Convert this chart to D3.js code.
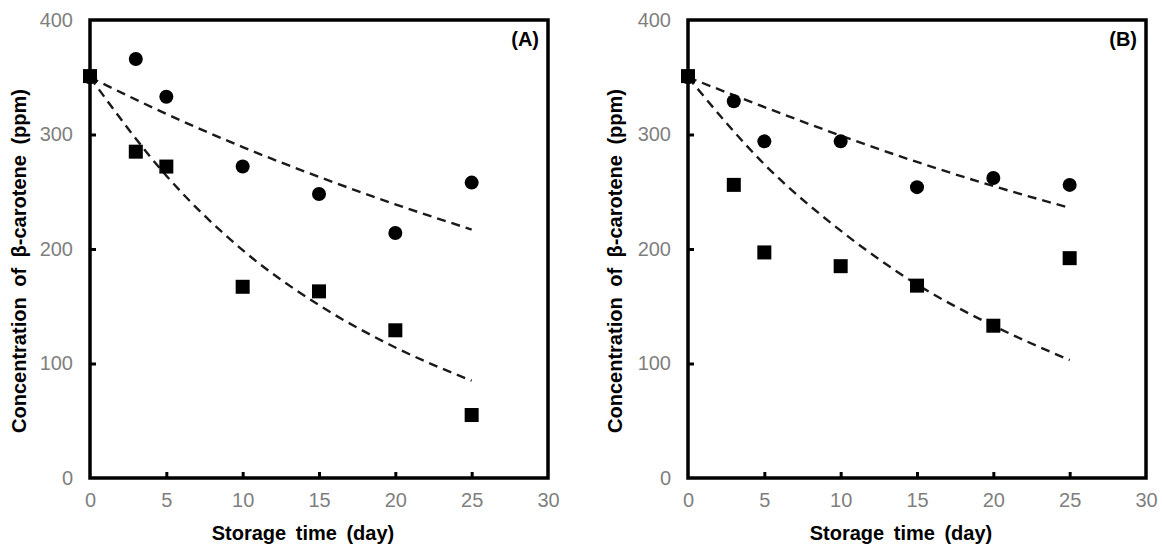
<!DOCTYPE html>
<html>
<head>
<meta charset="utf-8">
<script src="https://cdn.jsdelivr.net/npm/d3@7"></script>
<style>
  html, body { margin: 0; padding: 0; background: #fff; }
  svg { display: block; font-family: Arial, "Liberation Sans", sans-serif; }
</style>
</head>
<body>
<svg id="chart" width="1162" height="546"></svg>
<script>
// ---- Data ----
const days = [0, 3, 5, 10, 15, 20, 25];
const fitDays = [0, 5, 10, 15, 20, 25];

const circlesA = [350, 366, 333, 272, 248, 214, 258];
const squaresA = [351, 285, 272, 167, 163, 129, 55];
const fitUpperA = [350, 318, 289, 263, 239, 217];
const fitLowerA = [350, 264, 199, 151, 114, 85];

const circlesB = [350, 329, 294, 294, 254, 262, 256];
const squaresB = [351, 256, 197, 185, 168, 133, 192];
const fitUpperB = [350, 324, 299, 276, 255, 236];
const fitLowerB = [350, 274, 216, 169, 133, 103];

const xTicks = [0, 5, 10, 15, 20, 25, 30];
const yTicks = [0, 100, 200, 300, 400];
const panelLabels = ["(A)", "(B)"];
const xTitle = "Storage time (day)";
const yTitle = "Concentration of \u03b2-carotene (ppm)";

// ---- Drawing ----
const svg = d3.select("#chart");
const panels = [
  { left: 90, right: 548, circles: circlesA, squares: squaresA, upper: fitUpperA, lower: fitLowerA, label: panelLabels[0], yTitleX: 25.5 },
  { left: 688, right: 1146, circles: circlesB, squares: squaresB, upper: fitUpperB, lower: fitLowerB, label: panelLabels[1], yTitleX: 622 }
];
const plotTop = 20, plotBottom = 478;

panels.forEach(p => {
  const x = d3.scaleLinear().domain([0, 30]).range([p.left, p.right]);
  const y = d3.scaleLinear().domain([0, 400]).range([plotBottom, plotTop]);
  const g = svg.append("g");

  // fit lines
  const line = d3.line().x((d, i) => x(fitDays[i])).y(d => y(d)).curve(d3.curveMonotoneX);
  [p.upper, p.lower].forEach(arr => {
    g.append("path").attr("d", line(arr))
      .attr("fill", "none").attr("stroke", "#1a1a1a").attr("stroke-width", 2.4)
      .attr("stroke-dasharray", "9,6");
  });

  // circles
  g.selectAll("circle.pt").data(p.circles).join("circle")
    .attr("class", "pt")
    .attr("cx", (d, i) => x(days[i])).attr("cy", d => y(d)).attr("r", 7)
    .attr("fill", "#000");

  // squares
  const s = 14;
  g.selectAll("rect.pt").data(p.squares).join("rect")
    .attr("class", "pt")
    .attr("x", (d, i) => x(days[i]) - s / 2).attr("y", d => y(d) - s / 2)
    .attr("width", s).attr("height", s).attr("fill", "#000");

  // axes (ticks inward)
  const xAxis = d3.axisBottom(x).tickValues(xTicks).tickSizeInner(-6).tickSizeOuter(0).tickPadding(15);
  const yAxis = d3.axisLeft(y).tickValues(yTicks).tickSizeInner(-6).tickSizeOuter(0).tickPadding(17);
  const gx = g.append("g").attr("transform", `translate(0,${plotBottom})`).call(xAxis);
  const gy = g.append("g").attr("transform", `translate(${p.left},0)`).call(yAxis);
  [gx, gy].forEach(a => {
    a.select(".domain").remove();
    a.selectAll(".tick line").attr("stroke", "#000").attr("stroke-width", 3);
    a.selectAll(".tick text").attr("fill", "#7f7f7f").style("font-size", "20px");
  });
  gx.selectAll(".tick line").filter(d => d === 0 || d === 30).remove();
  gy.selectAll(".tick line").filter(d => d === 0 || d === 400).remove();

  // frame
  g.append("rect").attr("x", p.left).attr("y", plotTop)
    .attr("width", p.right - p.left).attr("height", plotBottom - plotTop)
    .attr("fill", "none").attr("stroke", "#000").attr("stroke-width", 3.5);

  // panel label
  g.append("text").attr("x", p.right - 9).attr("y", 46)
    .attr("text-anchor", "end").attr("font-weight", "bold").attr("font-size", 20)
    .text(p.label);

  // axis titles
  g.append("text").attr("x", (p.left + p.right) / 2 - 16).attr("y", 540)
    .attr("text-anchor", "middle").attr("font-weight", "bold").attr("font-size", 20)
    .style("word-spacing", "4px")
    .text(xTitle);
  g.append("text")
    .attr("transform", `translate(${p.yTitleX},${(plotTop + plotBottom) / 2 + 12}) rotate(-90)`)
    .attr("text-anchor", "middle").attr("font-weight", "bold").attr("font-size", 20)
    .style("word-spacing", "5px")
    .text(yTitle);
});
</script>
</body>
</html>
